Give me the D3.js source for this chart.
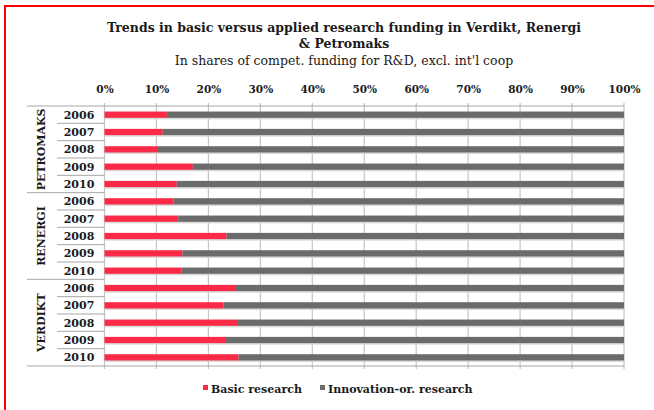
<!DOCTYPE html>
<html>
<head>
<meta charset="utf-8">
<script src="https://cdn.jsdelivr.net/npm/d3@7"></script>
<style>
  body { margin: 0; background: #fff; }
  svg { display: block; font-family: "DejaVu Serif", Georgia, serif; }
</style>
</head>
<body>
<svg id="chart" width="654" height="410"></svg>
<script>
// programmes (top to bottom) and years within each programme
const groups = ["PETROMAKS", "RENERGI", "VERDIKT"];
const years = ["2006", "2007", "2008", "2009", "2010"];
const ticks = [0, 0.1, 0.2, 0.3, 0.4, 0.5, 0.6, 0.7, 0.8, 0.9, 1];

// shares in %
const basicPetromaks = [12.0, 11.2, 10.3, 17.0, 13.9];
const basicRenergi = [13.3, 14.2, 23.5, 15.0, 14.8];
const basicVerdikt = [25.3, 22.9, 25.5, 23.2, 25.8];
const innovPetromaks = [88.0, 88.8, 89.7, 83.0, 86.1];
const innovRenergi = [86.7, 85.8, 76.5, 85.0, 85.2];
const innovVerdikt = [74.7, 77.1, 74.5, 76.8, 74.2];

const seriesNames = ["Basic research", "Innovation-or. research"];
const seriesColors = ["#fd2a47", "#6b6b6b"];

// flatten into rows for the stack
const basicByGroup = [basicPetromaks, basicRenergi, basicVerdikt];
const innovByGroup = [innovPetromaks, innovRenergi, innovVerdikt];
var rows = [];
groups.forEach(function (g, gi) {
  years.forEach(function (y, yi) {
    rows.push({ id: g + "-" + y, group: g, year: y,
      basic: basicByGroup[gi][yi], innov: innovByGroup[gi][yi] });
  });
});

var svg = d3.select("#chart");

// red frame (only top/left edges are inside the window)
svg.append("rect")
  .attr("x", 5).attr("y", 6)
  .attr("width", 700).attr("height", 450)
  .attr("fill", "none")
  .attr("stroke", "#ff0000")
  .attr("stroke-width", 2);

var plotLeft = 104.5, plotRight = 624, plotTop = 106, plotBottom = 366;
var labelLeft = 27, yearLeft = 57;

var x = d3.scaleLinear().domain([0, 1]).range([plotLeft, plotRight]);
var y = d3.scaleBand()
  .domain(rows.map(function (d) { return d.id; }))
  .range([plotTop, plotBottom])
  .paddingInner(0.64)
  .paddingOuter(0.32);
var step = y.step();

// title
var title = svg.append("g").attr("text-anchor", "middle");
title.append("text").attr("x", 344).attr("y", 32)
  .attr("font-weight", "bold").attr("font-size", 12.5).attr("fill", "#1a1a1a")
  .text("Trends in basic versus applied research funding in Verdikt, Renergi");
title.append("text").attr("x", 344).attr("y", 48)
  .attr("font-weight", "bold").attr("font-size", 12.5).attr("fill", "#1a1a1a")
  .text("& Petromaks");
title.append("text").attr("x", 344).attr("y", 65)
  .attr("font-size", 12.5).attr("fill", "#1a1a1a")
  .text("In shares of compet. funding for R&D, excl. int'l coop");

// vertical gridlines
svg.append("g")
  .selectAll("line")
  .data(ticks)
  .join("line")
  .attr("x1", function (d) { return x(d); })
  .attr("x2", function (d) { return x(d); })
  .attr("y1", plotTop - 3)
  .attr("y2", plotBottom + 3)
  .attr("stroke", "#c4c4c4")
  .attr("stroke-width", 1.2);

// top axis labels
var axis = svg.append("g")
  .attr("transform", "translate(0," + (plotTop - 10) + ")")
  .call(d3.axisTop(x).tickValues(ticks).tickSize(0).tickFormat(d3.format(".0%")));
axis.select(".domain").remove();
axis.selectAll("text")
  .attr("font-family", "DejaVu Serif, serif")
  .attr("font-weight", "bold")
  .attr("font-size", 10.5)
  .attr("fill", "#1a1a1a");

// horizontal frame lines of the category table
var lines = svg.append("g").attr("stroke", "#a6a6a6").attr("stroke-width", 1);
lines.append("line").attr("x1", labelLeft).attr("x2", plotRight)
  .attr("y1", plotTop).attr("y2", plotTop);
lines.append("line").attr("x1", labelLeft).attr("x2", plotRight)
  .attr("y1", plotBottom).attr("y2", plotBottom);
// separators between years
lines.selectAll(".yr")
  .data(rows.slice(1))
  .join("line")
  .attr("class", "yr")
  .attr("x1", yearLeft).attr("x2", plotLeft)
  .attr("y1", function (d) { return y(d.id) - y.paddingInner() * step / 2; })
  .attr("y2", function (d) { return y(d.id) - y.paddingInner() * step / 2; });
// separators between programmes
lines.selectAll(".grp")
  .data(groups.slice(1))
  .join("line")
  .attr("class", "grp")
  .attr("x1", labelLeft).attr("x2", yearLeft)
  .attr("y1", function (g) { return y(g + "-" + years[0]) - y.paddingInner() * step / 2; })
  .attr("y2", function (g) { return y(g + "-" + years[0]) - y.paddingInner() * step / 2; });

// stacked bars
var stack = d3.stack().keys(["basic", "innov"]).offset(d3.stackOffsetExpand);
var layers = stack(rows);

// soft shadow below the bars
svg.append("g")
  .selectAll("rect")
  .data(rows)
  .join("rect")
  .attr("x", x(0) + 1)
  .attr("y", function (d) { return y(d.id) + 1.5; })
  .attr("width", x(1) - x(0))
  .attr("height", y.bandwidth())
  .attr("fill", "#d6d6d6");

svg.append("g")
  .selectAll("g")
  .data(layers)
  .join("g")
  .attr("fill", function (d, i) { return seriesColors[i]; })
  .selectAll("rect")
  .data(function (d) { return d; })
  .join("rect")
  .attr("x", function (d) { return x(d[0]); })
  .attr("y", function (d) { return y(d.data.id); })
  .attr("width", function (d) { return x(d[1]) - x(d[0]); })
  .attr("height", y.bandwidth());

// year labels
svg.append("g")
  .selectAll("text")
  .data(rows)
  .join("text")
  .attr("x", 79)
  .attr("y", function (d) { return y(d.id) + y.bandwidth() / 2 + 4; })
  .attr("text-anchor", "middle")
  .attr("font-weight", "bold")
  .attr("font-size", 11)
  .attr("fill", "#1a1a1a")
  .text(function (d) { return d.year; });

// programme labels, rotated
svg.append("g")
  .selectAll("text")
  .data(groups)
  .join("text")
  .attr("transform", function (g) {
    var y0 = y(g + "-" + years[0]) - y.paddingInner() * step / 2;
    var cy = y0 + step * years.length / 2;
    return "translate(45," + cy + ") rotate(-90)";
  })
  .attr("text-anchor", "middle")
  .attr("font-weight", "bold")
  .attr("font-size", 11)
  .attr("fill", "#1a1a1a")
  .text(function (g) { return g; });

// legend
var legendX = [203, 320];
var legend = svg.append("g")
  .selectAll("g")
  .data(seriesNames)
  .join("g")
  .attr("transform", function (d, i) { return "translate(" + legendX[i] + ",385)"; });
legend.append("rect")
  .attr("width", 5).attr("height", 5)
  .attr("fill", function (d, i) { return seriesColors[i]; });
legend.append("text")
  .attr("x", 8).attr("y", 7.5)
  .attr("font-weight", "bold")
  .attr("font-size", 11)
  .attr("fill", "#1a1a1a")
  .text(function (d) { return d; });
</script>
</body>
</html>
